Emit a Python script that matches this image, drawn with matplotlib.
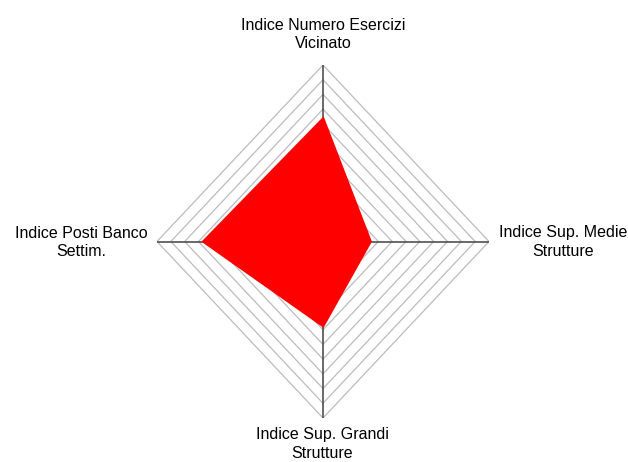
import numpy as np
import matplotlib
matplotlib.use("Agg")
import matplotlib.pyplot as plt

categories = ["Indice Numero Esercizi\nVicinato", "Indice Sup. Medie\nStrutture",
              "Indice Sup. Grandi\nStrutture", "Indice Posti Banco\nSettim."]
values = [8.3, 3.4, 5.7, 8.6]
n_rings = 12

W, H = 628, 462
fig = plt.figure(figsize=(W / 100, H / 100), dpi=100)
cx, cy, rx, ry = 323, 241.5, 166, 176.5
ax = fig.add_axes([(cx - rx) / W, (H - cy - ry) / H, 2 * rx / W, 2 * ry / H])
ax.set_xlim(-n_rings, n_rings)
ax.set_ylim(-n_rings, n_rings)
ax.axis("off")

# directions: top, right, bottom, left
dirs = np.array([[0, 1], [1, 0], [0, -1], [-1, 0]])

for r in range(1, n_rings + 1):
    pts = np.vstack([dirs * r, dirs[:1] * r])
    ax.plot(pts[:, 0], pts[:, 1], color="#bcbcbc", lw=0.9, zorder=1)

for d in dirs:
    ax.plot([0, d[0] * n_rings], [0, d[1] * n_rings], color="#505050", lw=1.2, zorder=2)

vals = np.array(values)[:, None] * dirs
ax.fill(vals[:, 0], vals[:, 1], color="#ff0000", ec="#ff0000", lw=2.5, zorder=3)

font = dict(family="Liberation Sans", fontsize=11.5, color="#000000",
            ha="center", va="center", multialignment="center", linespacing=1.25)
label_pos = [(323, 34.5), (563, 242), (322, 444), (81, 242.5)]
for lab, (x, y) in zip(categories, label_pos):
    fig.text(x / W, 1 - y / H, lab, **font)

fig.savefig("out.png", dpi=100)
